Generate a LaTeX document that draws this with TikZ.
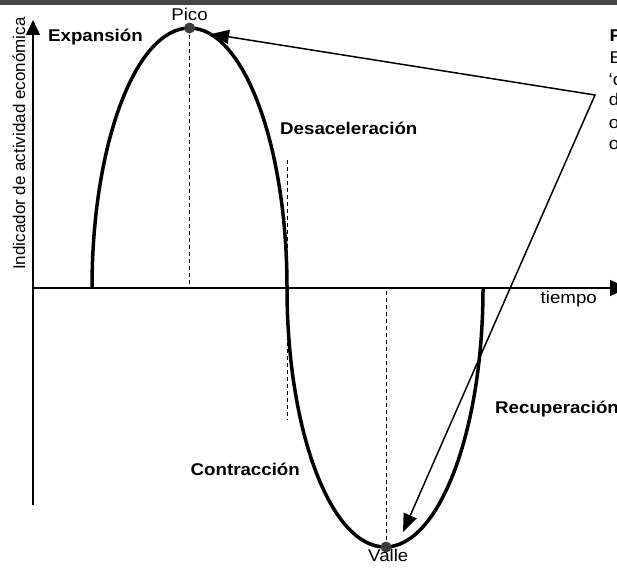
\documentclass[tikz,border=0pt]{standalone}
\usepackage{fontspec}
\setmainfont{Liberation Sans}[FakeStretch=1.1]
\newfontfamily\plainsans{Liberation Sans}
\usetikzlibrary{arrows.meta}
\definecolor{barcol}{HTML}{454545}
\definecolor{dotcol}{HTML}{3C3C3C}
\begin{document}
\begin{tikzpicture}[x=1pt,y=-1pt,
  lbl/.style={font=\fontsize{17}{20}\selectfont, inner sep=0pt},
  blbl/.style={inner sep=0pt, font=\fontsize{17}{20}\selectfont\bfseries},
  axis/.style={line width=1.5pt},
  curve/.style={line width=3.5pt},
  guide/.style={line width=1pt, dash pattern=on 4pt off 3pt},
  pointer/.style={line width=1.5pt, {Triangle[length=18pt,width=14pt]}-{Triangle[length=18pt,width=14pt]}},
  peak/.style={circle, fill=dotcol, minimum size=11pt, inner sep=0pt}]
\useasboundingbox (0,0) rectangle (617,567);
\fill[barcol] (0,0) rectangle (617,5);

% axes
\coordinate (origin) at (33,288);
\coordinate (ytop) at (33,20);
\coordinate (ybot) at (33,505);
\coordinate (xend) at (628,288);
\draw[axis, -{Triangle[length=15pt,width=14pt]}] (ybot) -- (ytop);
\draw[axis, -{Triangle[length=18pt,width=16pt]}] (origin) -- (xend);

% guides
\coordinate (picofoot) at (189.5,288);
\coordinate (vallefoot) at (386,288);
\coordinate (desA) at (287,160);
\coordinate (desB) at (287,420);
\coordinate (picoc) at (189.5,28);
\coordinate (vallec) at (386,547);
\draw[guide] (picoc) -- (picofoot);
\draw[guide] (vallec) -- (vallefoot);
\draw[guide] (desA) -- (desB);

% cycle curve
\coordinate (cstart) at (92,288);
\draw[curve] (cstart) arc[start angle=180, end angle=360, x radius=97.5, y radius=260]
                      arc[start angle=180, end angle=0, x radius=98, y radius=259];

% pointers
\coordinate (corner) at (595,95);
\coordinate (picotip) at (211,34);
\coordinate (valletip) at (403,532);
\draw[pointer] (picotip) -- (corner) -- (valletip);

% points
\node[peak] (pico) at (picoc) {};
\node[peak] (valle) at (vallec) {};

% labels
\node[lbl, anchor=base] (picolbl) at (189.5,20.5) {Pico};
\node[lbl, anchor=base west] (vallelbl) at (368,561.7) {Valle};
\node[blbl, anchor=base west] (expansion) at (48,41.5) {Expansión};
\node[blbl, anchor=base west] (desac) at (280,134.3) {Desaceleración};
\node[blbl, anchor=base west] (contr) at (190.5,475) {Contracción};
\node[blbl, anchor=base west] (recup) at (495,413) {Recuperación};
\node[lbl, anchor=base west] (tiempo) at (540.5,303.3) {tiempo};
\node[inner sep=0pt, font=\plainsans\fontsize{17}{20}\selectfont, rotate=90, anchor=base west] (ylabel) at (25,270) {Indicador de actividad económica};

% right-hand text (cut at the edge)
\node[blbl, anchor=base west] (r1) at (609.3,42) {F};
\node[lbl, anchor=base west] (r2) at (609.3,64) {E};
\node[lbl, anchor=base west] (r3) at (608.5,85) {‘c};
\node[lbl, anchor=base west] (r4) at (608.7,106) {d};
\node[lbl, anchor=base west] (r5) at (608.7,128) {o};
\node[lbl, anchor=base west] (r6) at (608.7,149) {o};
\end{tikzpicture}
\end{document}
